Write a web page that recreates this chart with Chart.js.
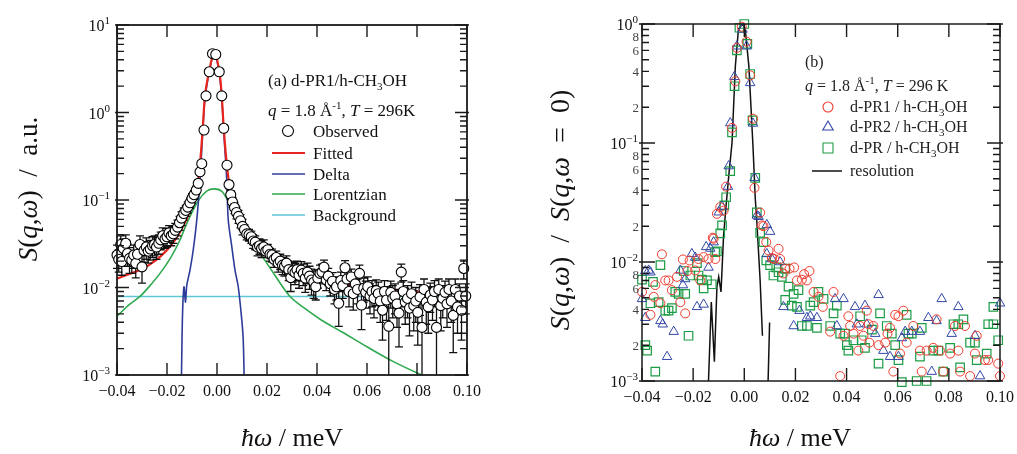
<!DOCTYPE html>
<html>
<head>
<meta charset="utf-8">
<script src="https://cdn.jsdelivr.net/npm/chart.js@4.4.0/dist/chart.umd.min.js"></script>
<style>
  body { margin: 0; background: #fff; }
  #wrap { position: relative; width: 1017px; height: 454px; }
  canvas { position: absolute; top: 0; }
</style>
</head>
<body>
<div id="wrap">
  <canvas id="chartA" width="520" height="454" style="left:0px"></canvas>
  <canvas id="chartB" width="497" height="454" style="left:520px"></canvas>
</div>
<script>
// axis ticks, shared by both panels
const xTicks = [-0.04, -0.02, 0.00, 0.02, 0.04, 0.06, 0.08, 0.10];
const xTickLabels = ['−0.04', '−0.02', '0.00', '0.02', '0.04', '0.06', '0.08', '0.10'];
const yDecadesA = [1e-3, 1e-2, 1e-1, 1, 10];
const yDecadesB = [1e-3, 1e-2, 1e-1, 1];
const minorLabelsB = [2, 4, 6, 8];

// panel (a): observed S(q,w) with error bars
const obsX = [-0.0400, -0.0393, -0.0385, -0.0381, -0.0375, -0.0365, -0.0358, -0.0350, -0.0341, -0.0333,
  -0.0325, -0.0318, -0.0308, -0.0300, -0.0292, -0.0283, -0.0275, -0.0267, -0.0258, -0.0250,
  -0.0242, -0.0233, -0.0225, -0.0217, -0.0208, -0.0200, -0.0192, -0.0183, -0.0175, -0.0167,
  -0.0158, -0.0150, -0.0142, -0.0133, -0.0125, -0.0117, -0.0108, -0.0100, -0.0092, -0.0083,
  -0.0075, -0.0068, -0.0061, -0.0052, -0.0044, -0.0031, -0.0018, -0.0005, 0.0009, 0.0019,
  0.0027, 0.0040, 0.0048, 0.0055, 0.0062, 0.0070, 0.0078, 0.0086, 0.0094, 0.0102,
  0.0110, 0.0119, 0.0128, 0.0137, 0.0145, 0.0153, 0.0162, 0.0170, 0.0178, 0.0187,
  0.0195, 0.0203, 0.0212, 0.0220, 0.0228, 0.0237, 0.0245, 0.0253, 0.0262, 0.0270,
  0.0278, 0.0287, 0.0295, 0.0303, 0.0312, 0.0320, 0.0328, 0.0337, 0.0345, 0.0353,
  0.0362, 0.0370, 0.0378, 0.0387, 0.0395, 0.0403, 0.0412, 0.0420, 0.0428, 0.0437,
  0.0445, 0.0453, 0.0462, 0.0470, 0.0478, 0.0487, 0.0495, 0.0503, 0.0512, 0.0520,
  0.0528, 0.0537, 0.0545, 0.0553, 0.0562, 0.0570, 0.0578, 0.0587, 0.0595, 0.0603,
  0.0612, 0.0620, 0.0628, 0.0637, 0.0645, 0.0653, 0.0662, 0.0670, 0.0678, 0.0687,
  0.0695, 0.0703, 0.0712, 0.0720, 0.0728, 0.0737, 0.0745, 0.0753, 0.0762, 0.0770,
  0.0778, 0.0787, 0.0795, 0.0803, 0.0812, 0.0820, 0.0828, 0.0837, 0.0845, 0.0853,
  0.0862, 0.0870, 0.0878, 0.0887, 0.0895, 0.0903, 0.0912, 0.0920, 0.0928, 0.0937,
  0.0945, 0.0953, 0.0962, 0.0970, 0.0978, 0.0987, 0.0995];
const obsY = [0.0235, 0.0210, 0.0310, 0.0198, 0.0280, 0.0320, 0.0245, 0.0215, 0.0205, 0.0235,
  0.0189, 0.0240, 0.0310, 0.0172, 0.0265, 0.0290, 0.0260, 0.0275, 0.0300, 0.0310,
  0.0290, 0.0320, 0.0350, 0.0390, 0.0360, 0.0380, 0.0420, 0.0390, 0.0410, 0.0450,
  0.0490, 0.0550, 0.0620, 0.0700, 0.0760, 0.0830, 0.0930, 0.1050, 0.1150, 0.1300,
  0.1550, 0.2100, 0.2600, 0.6300, 1.5500, 2.9200, 4.7000, 4.6000, 2.9200, 1.5500,
  0.6600, 0.2500, 0.1500, 0.1150, 0.0950, 0.0820, 0.0720, 0.0650, 0.0580, 0.0500,
  0.0460, 0.0410, 0.0400, 0.0380, 0.0340, 0.0330, 0.0290, 0.0300, 0.0280, 0.0290,
  0.0260, 0.0270, 0.0240, 0.0235, 0.0210, 0.0220, 0.0190, 0.0200, 0.0180, 0.0175,
  0.0190, 0.0160, 0.0130, 0.0155, 0.0148, 0.0160, 0.0138, 0.0158, 0.0145, 0.0128,
  0.0150, 0.0135, 0.0122, 0.0115, 0.0102, 0.0128, 0.0145, 0.0150, 0.0171, 0.0122,
  0.0135, 0.0110, 0.0118, 0.0095, 0.0102, 0.0066, 0.0120, 0.0105, 0.0168, 0.0125,
  0.0090, 0.0132, 0.0085, 0.0110, 0.0095, 0.0145, 0.0063, 0.0098, 0.0088, 0.0102,
  0.0080, 0.0090, 0.0075, 0.0092, 0.0085, 0.0070, 0.0055, 0.0090, 0.0072, 0.0036,
  0.0088, 0.0075, 0.0080, 0.0065, 0.0051, 0.0150, 0.0090, 0.0068, 0.0075, 0.0058,
  0.0085, 0.0062, 0.0070, 0.0052, 0.0078, 0.0035, 0.0095, 0.0068, 0.0060, 0.0082,
  0.0072, 0.0090, 0.0035, 0.0095, 0.0062, 0.0075, 0.0088, 0.0065, 0.0095, 0.0070,
  0.0048, 0.0095, 0.0060, 0.0080, 0.0055, 0.0165, 0.0080];
const obsErr = [0.007, 0.006, 0.008, 0.006, 0.008, 0.008, 0.007, 0.007, 0.006, 0.007,
  0.006, 0.007, 0.008, 0.006, 0.007, 0.008, 0.007, 0.007, 0.008, 0.008,
  0.008, 0.008, 0.008, 0.009, 0.008, 0.009, 0.009, 0.009, 0.009, 0.009,
  0.010, 0.010, 0.011, 0.011, 0.011, 0.012, 0.012, 0.013, 0.013, 0.014,
  0.015, 0.016, 0.018, 0.030, 0.050, 0.080, 0.110, 0.110, 0.080, 0.050,
  0.030, 0.018, 0.015, 0.013, 0.012, 0.012, 0.011, 0.011, 0.010, 0.010,
  0.006, 0.006, 0.006, 0.006, 0.006, 0.006, 0.006, 0.006, 0.006, 0.006,
  0.004, 0.004, 0.004, 0.004, 0.004, 0.004, 0.004, 0.004, 0.004, 0.004,
  0.004, 0.004, 0.004, 0.004, 0.004, 0.004, 0.004, 0.004, 0.004, 0.004,
  0.004, 0.004, 0.004, 0.004, 0.003, 0.003, 0.0035, 0.0035, 0.0035, 0.003,
  0.003, 0.003, 0.003, 0.003, 0.003, 0.003, 0.003, 0.003, 0.0035, 0.003,
  0.003, 0.003, 0.003, 0.003, 0.003, 0.0035, 0.003, 0.003, 0.003, 0.003,
  0.003, 0.003, 0.003, 0.003, 0.003, 0.003, 0.003, 0.003, 0.003, 0.003,
  0.003, 0.003, 0.003, 0.003, 0.003, 0.0035, 0.003, 0.003, 0.003, 0.003,
  0.003, 0.003, 0.003, 0.003, 0.003, 0.003, 0.003, 0.003, 0.003, 0.003,
  0.003, 0.003, 0.003, 0.003, 0.003, 0.003, 0.003, 0.003, 0.003, 0.003,
  0.003, 0.003, 0.003, 0.003, 0.003, 0.004, 0.003];

// panel (a): fitted curve and its components
const fitX = [-0.0400, -0.0350, -0.0308, -0.0268, -0.0228, -0.0185, -0.0150, -0.0115, -0.0095, -0.0081,
  -0.0068, -0.0057, -0.0048, -0.0031, -0.0011, 0.0009, 0.0019, 0.0027, 0.0040, 0.0050,
  0.0065, 0.0085, 0.0110, 0.0145, 0.0179, 0.0230, 0.0292, 0.0350, 0.0420, 0.0500,
  0.0600, 0.0700, 0.0812, 0.0900, 0.1000];
const fitY = [0.0126, 0.0143, 0.0158, 0.0184, 0.0224, 0.030, 0.042, 0.067, 0.095, 0.13,
  0.26, 0.66, 1.55, 3.0, 4.9, 3.0, 1.55, 0.66, 0.24, 0.15,
  0.10, 0.073, 0.048, 0.038, 0.031, 0.022, 0.0158, 0.0137, 0.0121, 0.0110,
  0.0100, 0.0093, 0.0089, 0.0087, 0.0085];
const deltaX = [-0.0143, -0.0140, -0.0137, -0.0132, -0.0126, -0.0121, -0.0108, -0.0095, -0.0081, -0.0068,
  -0.0057, -0.0048, -0.0031, -0.0011, 0.0009, 0.0019, 0.0027, 0.0039, 0.0045, 0.0059,
  0.0072, 0.0085, 0.0099, 0.0105, 0.0110];
const deltaY = [0.0006, 0.0025, 0.0060, 0.0102, 0.0068, 0.0105, 0.0158, 0.027, 0.059, 0.17,
  0.60, 1.45, 2.9, 4.8, 2.8, 1.45, 0.60, 0.17, 0.059, 0.0295,
  0.0158, 0.0102, 0.0043, 0.0025, 0.0006];
const lorX = [-0.0400, -0.0350, -0.0308, -0.0268, -0.0228, -0.0185, -0.0150, -0.0115, -0.0075, -0.0040,
  -0.0010, 0.0020, 0.0050, 0.0072, 0.0110, 0.0145, 0.0179, 0.0230, 0.0292, 0.0350,
  0.0420, 0.0500, 0.0600, 0.0700, 0.0812, 0.0900, 0.1000];
const lorY = [0.0047, 0.0064, 0.0079, 0.0105, 0.0145, 0.022, 0.034, 0.059, 0.098, 0.127,
  0.134, 0.125, 0.090, 0.062, 0.040, 0.030, 0.0230, 0.0140, 0.0079, 0.0058,
  0.0042, 0.0031, 0.0021, 0.00145, 0.00102, 0.0008, 0.00062];
const bgX = [-0.04, 0.10];
const bgY = [0.0079, 0.0079];

// panel (b): normalised spectra of three samples and the resolution
const pr1X = [-0.0400, -0.0367, -0.0354, -0.0348, -0.0328, -0.0322, -0.0309, -0.0296, -0.0283, -0.0263,
  -0.0250, -0.0240, -0.0231, -0.0222, -0.0214, -0.0192, -0.0179, -0.0172, -0.0159, -0.0140,
  -0.0123, -0.0120, -0.0113, -0.0107, -0.0094, -0.0081, -0.0071, -0.0048, -0.0035, -0.0029,
  -0.0010, 0.0009, 0.0023, 0.0034, 0.0040, 0.0062, 0.0069, 0.0075, 0.0086, 0.0095,
  0.0108, 0.0117, 0.0134, 0.0140, 0.0153, 0.0160, 0.0177, 0.0195, 0.0206, 0.0225,
  0.0234, 0.0245, 0.0255, 0.0271, 0.0290, 0.0307, 0.0336, 0.0349, 0.0375, 0.0388,
  0.0407, 0.0414, 0.0427, 0.0446, 0.0453, 0.0466, 0.0479, 0.0486, 0.0489, 0.0505,
  0.0525, 0.0551, 0.0560, 0.0570, 0.0583, 0.0590, 0.0603, 0.0609, 0.0622, 0.0635,
  0.0661, 0.0687, 0.0694, 0.0713, 0.0739, 0.0752, 0.0765, 0.0778, 0.0805, 0.0824,
  0.0837, 0.0844, 0.0863, 0.0883, 0.0902, 0.0909, 0.0941, 0.0954, 0.0993, 0.1000];
const pr1Y = [0.0056, 0.0036, 0.0051, 0.0064, 0.0045, 0.0116, 0.0070, 0.0070, 0.0058, 0.0075,
  0.0046, 0.0105, 0.0037, 0.0084, 0.0103, 0.0085, 0.0106, 0.0070, 0.0110, 0.0106,
  0.0160, 0.0157, 0.0106, 0.0254, 0.0289, 0.0270, 0.0430, 0.134, 0.33, 0.63,
  0.95, 0.71, 0.37, 0.16, 0.042, 0.0260, 0.0203, 0.0200, 0.0147, 0.0125,
  0.0108, 0.0106, 0.0129, 0.0106, 0.0080, 0.0088, 0.0088, 0.0090, 0.0070, 0.0071,
  0.0079, 0.0070, 0.0084, 0.0056, 0.0051, 0.0042, 0.0026, 0.0056, 0.0011, 0.0024,
  0.0035, 0.0029, 0.0025, 0.0018, 0.0029, 0.0024, 0.0039, 0.0030, 0.0021, 0.0029,
  0.0020, 0.0021, 0.0025, 0.0028, 0.0012, 0.0036, 0.0035, 0.0017, 0.0039, 0.0021,
  0.0029, 0.0018, 0.0012, 0.0018, 0.0019, 0.0033, 0.0018, 0.0012, 0.0017, 0.0029,
  0.0018, 0.0012, 0.0029, 0.0011, 0.0017, 0.0024, 0.0015, 0.0015, 0.0014, 0.0011];
const pr2X = [-0.0400, -0.0387, -0.0387, -0.0374, -0.0367, -0.0328, -0.0319, -0.0302, -0.0276, -0.0250,
  -0.0240, -0.0231, -0.0205, -0.0192, -0.0185, -0.0159, -0.0149, -0.0140, -0.0133, -0.0120,
  -0.0100, -0.0087, -0.0064, -0.0061, -0.0055, -0.0039, -0.0029, -0.0007, 0.0009, 0.0023,
  0.0034, 0.0040, 0.0049, 0.0056, 0.0088, 0.0088, 0.0101, 0.0108, 0.0140, 0.0153,
  0.0193, 0.0216, 0.0245, 0.0258, 0.0284, 0.0355, 0.0362, 0.0388, 0.0433, 0.0440,
  0.0472, 0.0479, 0.0512, 0.0525, 0.0544, 0.0570, 0.0603, 0.0616, 0.0629, 0.0655,
  0.0687, 0.0720, 0.0733, 0.0752, 0.0772, 0.0811, 0.0837, 0.0902, 0.0922, 0.1000];
const pr2Y = [0.0049, 0.0084, 0.0034, 0.0085, 0.0082, 0.0032, 0.0030, 0.0016, 0.0026, 0.0085,
  0.0064, 0.0072, 0.0117, 0.0109, 0.0042, 0.0044, 0.0134, 0.0090, 0.0130, 0.0147,
  0.0262, 0.0293, 0.043, 0.064, 0.147, 0.36, 0.65, 0.90, 0.65, 0.32,
  0.146, 0.051, 0.0246, 0.0240, 0.0205, 0.0117, 0.0180, 0.0106, 0.0100, 0.0042,
  0.0029, 0.0039, 0.0034, 0.0035, 0.0034, 0.0049, 0.0029, 0.0049, 0.0042, 0.0030,
  0.0043, 0.0030, 0.0025, 0.0053, 0.0018, 0.0016, 0.0016, 0.0023, 0.0026, 0.0026,
  0.0026, 0.0034, 0.0012, 0.0032, 0.0049, 0.0025, 0.0042, 0.0024, 0.0011, 0.0045];
const prX = [-0.0400, -0.0387, -0.0380, -0.0367, -0.0357, -0.0348, -0.0335, -0.0328, -0.0309, -0.0296,
  -0.0283, -0.0270, -0.0257, -0.0237, -0.0231, -0.0218, -0.0211, -0.0185, -0.0179, -0.0166,
  -0.0159, -0.0146, -0.0127, -0.0114, -0.0107, -0.0094, -0.0087, -0.0078, -0.0071, -0.0055,
  -0.0048, -0.0038, -0.0029, -0.0019, 0.0000, 0.0012, 0.0023, 0.0032, 0.0043, 0.0049,
  0.0062, 0.0075, 0.0086, 0.0101, 0.0114, 0.0125, 0.0134, 0.0147, 0.0160, 0.0160,
  0.0173, 0.0186, 0.0193, 0.0206, 0.0212, 0.0225, 0.0245, 0.0258, 0.0271, 0.0284,
  0.0290, 0.0310, 0.0336, 0.0349, 0.0362, 0.0375, 0.0394, 0.0401, 0.0407, 0.0427,
  0.0453, 0.0459, 0.0472, 0.0499, 0.0525, 0.0531, 0.0557, 0.0577, 0.0590, 0.0603,
  0.0616, 0.0635, 0.0642, 0.0655, 0.0674, 0.0687, 0.0694, 0.0713, 0.0739, 0.0759,
  0.0778, 0.0805, 0.0818, 0.0837, 0.0844, 0.0857, 0.0883, 0.0902, 0.0909, 0.0948,
  0.0954, 0.0974, 0.0974, 0.0993];
const prY = [0.0071, 0.0020, 0.0018, 0.0045, 0.0068, 0.0012, 0.0046, 0.0094, 0.0039, 0.0039,
  0.0041, 0.0056, 0.0054, 0.0084, 0.0054, 0.0024, 0.0077, 0.0098, 0.0077, 0.0071,
  0.0060, 0.0070, 0.0065, 0.0121, 0.0123, 0.0174, 0.0203, 0.0299, 0.035, 0.058,
  0.123, 0.30, 0.60, 0.93, 1.00, 0.68, 0.38, 0.155, 0.051, 0.0261,
  0.0176, 0.0147, 0.0103, 0.0094, 0.0077, 0.0090, 0.0082, 0.0075, 0.0088, 0.0048,
  0.0062, 0.0043, 0.0054, 0.0042, 0.0058, 0.0029, 0.0029, 0.0043, 0.0046, 0.0028,
  0.0056, 0.0049, 0.0029, 0.0037, 0.0043, 0.0025, 0.0025, 0.0020, 0.0018, 0.0022,
  0.0035, 0.0022, 0.0019, 0.0027, 0.0014, 0.0037, 0.0029, 0.0025, 0.0020, 0.0015,
  0.00098, 0.0036, 0.0025, 0.0025, 0.0010, 0.0016, 0.0028, 0.0010, 0.0018, 0.0018,
  0.0012, 0.0019, 0.0030, 0.0030, 0.0013, 0.0033, 0.0021, 0.0021, 0.0015, 0.0017,
  0.0030, 0.0030, 0.0042, 0.0022];
const resX = [-0.0143, -0.0140, -0.0129, -0.0117, -0.0107, -0.0100, -0.0091, -0.0081, -0.0071, -0.0060,
  -0.0048, -0.0035, -0.0023, -0.0010, 0.0003, 0.0018, 0.0034, 0.0043, 0.0049, 0.0062,
  0.0071, 0.0080, 0.0092, 0.0099, 0.0101];
const resY = [0.0007, 0.0010, 0.0046, 0.00145, 0.0062, 0.0075, 0.0056, 0.0167, 0.030, 0.055,
  0.10, 0.44, 0.90, 1.00, 0.93, 0.44, 0.094, 0.034, 0.022, 0.0070,
  0.0024, null, 0.0008, 0.0031, null];

const FONT = '"Liberation Serif", "Times New Roman", serif';
const pts = (xs, ys) => xs.map((x, i) => ({ x: x, y: ys[i] }));

// draws a run of text pieces: [text, style] with style '', 'i', 'sup', 'sub'
function drawRich(ctx, runs, x, y, size, align) {
  let total = 0;
  const parts = runs.map(r => {
    const s = r[1] || '';
    const small = s === 'sup' || s === 'sub';
    const font = (s === 'i' ? 'italic ' : '') + (small ? Math.round(size * 0.66) : size) + 'px ' + FONT;
    ctx.font = font;
    const w = ctx.measureText(r[0]).width;
    total += w;
    return { t: r[0], font: font, w: w, dy: s === 'sup' ? -size * 0.42 : (s === 'sub' ? size * 0.25 : 0) };
  });
  let cx = align === 'center' ? x - total / 2 : (align === 'right' ? x - total : x);
  ctx.textAlign = 'left';
  ctx.textBaseline = 'alphabetic';
  parts.forEach(p => { ctx.font = p.font; ctx.fillText(p.t, cx, y + p.dy); cx += p.w; });
}

function drawMarker(ctx, style, x, y, r, color) {
  ctx.save();
  ctx.strokeStyle = color; ctx.lineWidth = 1.1; ctx.fillStyle = '#fff';
  ctx.beginPath();
  if (style === 'circle') ctx.arc(x, y, r, 0, Math.PI * 2);
  else if (style === 'triangle') {
    ctx.moveTo(x, y - r); ctx.lineTo(x + r * 0.866, y + r * 0.5); ctx.lineTo(x - r * 0.866, y + r * 0.5); ctx.closePath();
  } else ctx.rect(x - r, y - r, r * 2, r * 2);
  ctx.fill(); ctx.stroke();
  ctx.restore();
}

function drawErrorBars(chart) {
  const ctx = chart.ctx, a = chart.chartArea, xs = chart.scales.x, ys = chart.scales.y;
  ctx.save();
  ctx.beginPath(); ctx.rect(a.left - 6, a.top, a.right - a.left + 12, a.bottom - a.top); ctx.clip();
  ctx.strokeStyle = '#111'; ctx.lineWidth = 1.3;
  ctx.beginPath();
  obsX.forEach((x, i) => {
    const px = xs.getPixelForValue(x);
    const hi = ys.getPixelForValue(obsY[i] + obsErr[i]);
    const loV = obsY[i] - obsErr[i];
    const lo = loV > ys.min ? ys.getPixelForValue(loV) : a.bottom + 2;
    ctx.moveTo(px, hi); ctx.lineTo(px, lo);
    ctx.moveTo(px - 4, hi); ctx.lineTo(px + 4, hi);
    if (loV > ys.min) { ctx.moveTo(px - 4, lo); ctx.lineTo(px + 4, lo); }
  });
  ctx.stroke();
  ctx.restore();
}

function framePlugin(cfg) {
  return {
    id: 'frame' + cfg.name,
    beforeDatasetDraw(chart, args) {
      if (cfg.errorBars && args.index === 0) drawErrorBars(chart);
    },
    afterDraw(chart) {
      const ctx = chart.ctx, a = chart.chartArea, xs = chart.scales.x, ys = chart.scales.y;
      ctx.save();
      ctx.strokeStyle = '#1a1a1a';
      ctx.lineWidth = cfg.frameWidth;
      ctx.strokeRect(a.left, a.top, a.right - a.left, a.bottom - a.top);
      ctx.lineWidth = 1.4;
      ctx.beginPath();
      xTicks.forEach(v => {
        const px = xs.getPixelForValue(v);
        ctx.moveTo(px, a.bottom); ctx.lineTo(px, a.bottom - cfg.majorLen);
        ctx.moveTo(px, a.top); ctx.lineTo(px, a.top + cfg.majorLen);
      });
      cfg.decades.forEach((d, i) => {
        const py = ys.getPixelForValue(d);
        ctx.moveTo(a.left - cfg.majorOut, py); ctx.lineTo(a.left + cfg.majorLen, py);
        ctx.moveTo(a.right + cfg.majorOut, py); ctx.lineTo(a.right - cfg.majorLen, py);
        if (i < cfg.decades.length - 1) {
          for (let m = 2; m <= 9; m++) {
            const q = ys.getPixelForValue(d * m);
            ctx.moveTo(a.left, q); ctx.lineTo(a.left + cfg.minorLen, q);
            ctx.moveTo(a.right, q); ctx.lineTo(a.right - cfg.minorLen, q);
          }
        }
      });
      ctx.stroke();

      ctx.fillStyle = '#111';
      ctx.font = '16px ' + FONT;
      ctx.textAlign = 'center';
      ctx.textBaseline = 'alphabetic';
      xTicks.forEach((v, i) => ctx.fillText(xTickLabels[i], xs.getPixelForValue(v), a.bottom + 21));
      cfg.decades.forEach(d => {
        const e = Math.round(Math.log10(d));
        drawRich(ctx, [['10', ''], [e < 0 ? '−' + (-e) : String(e), 'sup']], a.left - cfg.yLabelGap, ys.getPixelForValue(d) + 6, 16, 'right');
      });
      if (cfg.minorLabels) {
        ctx.fillStyle = '#444';
        ctx.font = '13px ' + FONT;
        ctx.textAlign = 'right';
        cfg.decades.slice(0, -1).forEach(d => {
          cfg.minorLabels.forEach(m => ctx.fillText(String(m), a.left - 3, ys.getPixelForValue(d * m) + 5));
        });
        ctx.fillStyle = '#111';
      }

      // axis titles
      drawRich(ctx, [['ħω', 'i'], [' / meV', '']], cfg.xTitle[0], cfg.xTitle[1], 26, 'center');
      ctx.save();
      ctx.translate(cfg.yTitle[0], cfg.yTitle[1]);
      ctx.rotate(-Math.PI / 2);
      drawRich(ctx, cfg.yTitleRuns, 0, 9, cfg.yTitleSize, 'center');
      ctx.restore();

      cfg.legend(ctx, chart);
      ctx.restore();
    }
  };
}

function legendA(ctx, chart) {
  const ds = chart.data.datasets;
  ctx.fillStyle = '#111';
  drawRich(ctx, [['(a) d-PR1/h-CH', ''], ['3', 'sub'], ['OH', '']], 268, 86, 17, 'left');
  drawRich(ctx, [['q', 'i'], [' = 1.8 Å', ''], ['-1', 'sup'], [', ', ''], ['T', 'i'], [' = 296K', '']], 268, 116, 17, 'left');
  const rows = [131, 153, 174, 194, 215];
  rows.forEach((y, i) => {
    if (i === 0) drawMarker(ctx, 'circle', 288, y, 5.5, '#000');
    else {
      ctx.strokeStyle = ds[i].borderColor; ctx.lineWidth = ds[i].borderWidth;
      ctx.beginPath(); ctx.moveTo(272, y); ctx.lineTo(305, y); ctx.stroke();
    }
    ctx.fillStyle = '#111';
    drawRich(ctx, [[ds[i].label, '']], 313, y + 6, 17, 'left');
  });
}

function legendB(ctx, chart) {
  const ds = chart.data.datasets;
  ctx.fillStyle = '#222';
  drawRich(ctx, [['(b)', '']], 285, 67, 16, 'left');
  drawRich(ctx, [['q', 'i'], [' = 1.8 Å', ''], ['-1', 'sup'], [', ', ''], ['T', 'i'], [' = 296 K', '']], 285, 91, 16, 'left');
  const rows = [107, 127, 148, 171];
  const sizes = [5, 6, 5];
  rows.forEach((y, i) => {
    const d = ds[i];
    if (i < 3) drawMarker(ctx, d.pointStyle, 308, y, sizes[i], d.pointBorderColor);
    else {
      ctx.strokeStyle = d.borderColor; ctx.lineWidth = 1.5;
      ctx.beginPath(); ctx.moveTo(292, y); ctx.lineTo(322, y); ctx.stroke();
    }
    ctx.fillStyle = '#222';
    const runs = d.label.indexOf('CH3') >= 0
      ? [[d.label.split('CH3')[0] + 'CH', ''], ['3', 'sub'], ['OH', '']]
      : [[d.label, '']];
    drawRich(ctx, runs, 330, y + 5, 16, 'left');
  });
}

const lineDs = (label, xs, ys, color, width) => ({
  label: label, data: pts(xs, ys), showLine: true, pointRadius: 0,
  borderColor: color, borderWidth: width, spanGaps: false, tension: 0.3
});

const chartA = new Chart(document.getElementById('chartA'), {
  type: 'scatter',
  data: {
    datasets: [
      { label: 'Observed', data: pts(obsX, obsY), pointStyle: 'circle', pointRadius: 5,
        pointBackgroundColor: '#fff', pointBorderColor: '#000', pointBorderWidth: 1.1, clip: false },
      lineDs('Fitted', fitX, fitY, '#e8251d', 2.2),
      lineDs('Delta', deltaX, deltaY, '#2d3c9b', 1.6),
      lineDs('Lorentzian', lorX, lorY, '#2fa84f', 1.6),
      lineDs('Background', bgX, bgY, '#5fc6d6', 1.6)
    ]
  },
  options: {
    responsive: false,
    animation: false,
    layout: { padding: { top: 25, right: 53, left: 0, bottom: 0 } },
    plugins: { legend: { display: false }, tooltip: { enabled: false } },
    scales: {
      x: { type: 'linear', min: -0.04, max: 0.10, grid: { display: false }, border: { display: false },
        ticks: { display: false }, afterFit: s => { s.height = 79; } },
      y: { type: 'logarithmic', min: 1e-3, max: 10, grid: { display: false }, border: { display: false },
        ticks: { display: false }, afterFit: s => { s.width = 117; } }
    }
  },
  plugins: [framePlugin({
    name: 'A', errorBars: true, frameWidth: 1.8, majorLen: 12, majorOut: 2, minorLen: 7,
    decades: yDecadesA, yLabelGap: 7, xTitle: [292, 446], yTitle: [28, 189], yTitleSize: 27,
    yTitleRuns: [['S', 'i'], ['(', ''], ['q', 'i'], [',', ''], ['ω', 'i'], [')  /  a.u.', '']],
    legend: legendA
  })]
});

const chartB = new Chart(document.getElementById('chartB'), {
  type: 'scatter',
  data: {
    datasets: [
      { label: 'd-PR1 / h-CH3OH', data: pts(pr1X, pr1Y), pointStyle: 'circle', pointRadius: 4.5,
        pointBackgroundColor: 'rgba(0,0,0,0)', pointBorderColor: '#ee3a2c', pointBorderWidth: 1, clip: false },
      { label: 'd-PR2 / h-CH3OH', data: pts(pr2X, pr2Y), pointStyle: 'triangle', pointRadius: 5.5,
        pointBackgroundColor: 'rgba(0,0,0,0)', pointBorderColor: '#3447a6', pointBorderWidth: 1, clip: false },
      { label: 'd-PR / h-CH3OH', data: pts(prX, prY), pointStyle: 'rect', pointRadius: 6,
        pointBackgroundColor: 'rgba(0,0,0,0)', pointBorderColor: '#1c9c46', pointBorderWidth: 1.2, clip: false },
      { label: 'resolution', data: pts(resX, resY), showLine: true, pointRadius: 0,
        borderColor: '#111', borderWidth: 1.5, spanGaps: false }
    ]
  },
  options: {
    responsive: false,
    animation: false,
    layout: { padding: { top: 24, right: 17, left: 0, bottom: 0 } },
    plugins: { legend: { display: false }, tooltip: { enabled: false } },
    scales: {
      x: { type: 'linear', min: -0.04, max: 0.10, grid: { display: false }, border: { display: false },
        ticks: { display: false }, afterFit: s => { s.height = 73; } },
      y: { type: 'logarithmic', min: 1e-3, max: 1, grid: { display: false }, border: { display: false },
        ticks: { display: false }, afterFit: s => { s.width = 122; } }
    }
  },
  plugins: [framePlugin({
    name: 'B', errorBars: false, frameWidth: 1.5, majorLen: 13, majorOut: 3, minorLen: 7,
    decades: yDecadesB, yLabelGap: 4, minorLabels: minorLabelsB, xTitle: [280, 446], yTitle: [40, 210], yTitleSize: 28,
    yTitleRuns: [['S', 'i'], ['(', ''], ['q', 'i'], [',', ''], ['ω', 'i'], [')  /  ', ''], ['S', 'i'], ['(', ''], ['q', 'i'], [',', ''], ['ω', 'i'], ['  =  0)', '']],
    legend: legendB
  })]
});
</script>
</body>
</html>
